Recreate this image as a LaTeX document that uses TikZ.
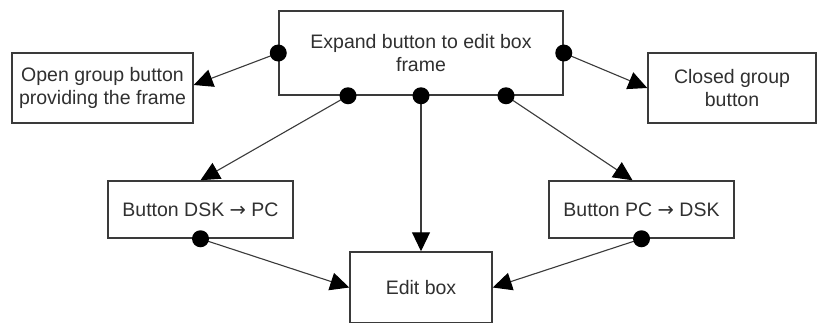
\documentclass[tikz,border=0pt]{standalone}
\usepackage{fontspec}
\setmainfont{Liberation Sans}
\newfontfamily\arrowfont{DejaVu Sans}
\usetikzlibrary{arrows.meta}
\definecolor{ink}{HTML}{303030}
\definecolor{frame}{HTML}{3A3A3A}
\newcommand{\toarrow}{{\arrowfont →}}
\tikzset{
  box/.style={draw=frame, line width=1.5pt, fill=white, inner sep=0pt,
    align=center, text=ink, font=\fontsize{19.5}{23}\selectfont},
  link/.style={draw=frame, line width=1.1pt,
    -{Triangle[length=19pt,width=18pt,color=black]}},
  dot/.style={fill=black, draw=none},
}
\begin{document}
\begin{tikzpicture}[x=1pt, y=-1pt]
\useasboundingbox (0,0) rectangle (818,322);
\clip (0,0) rectangle (818,322);
\fill[white] (0,0) rectangle (818,322);

% boxes
\node[box, minimum width=284pt, minimum height=84pt] (top) at (421,53)
  {Expand button to edit box\\frame};
\node[box, minimum width=181pt, minimum height=70pt] (left) at (102.5,88)
  {Open group button\\providing the frame};
\node[box, minimum width=168pt, minimum height=70pt] (right) at (732,88)
  {Closed group\\button};
\node[box, minimum width=185pt, minimum height=57pt] (dsk) at (200.5,209.5)
  {Button DSK \toarrow{} PC};
\node[box, minimum width=185pt, minimum height=57pt] (pc) at (641.5,209.5)
  {Button PC \toarrow{} DSK};
\node[box, minimum width=142pt, minimum height=71pt] (edit) at (421,287.5)
  {Edit box};

% connector origins on the frame box
\coordinate (tl) at (top.west);
\coordinate (tr) at (top.east);
\coordinate (b1) at ([xshift=-73pt]top.south);
\coordinate (b2) at (top.south);
\coordinate (b3) at ([xshift=85pt]top.south);
\coordinate (dd) at (dsk.south);
\coordinate (pd) at (pc.south);

% connectors
\draw[link] (tl) -- ([yshift=3pt]left.east);
\draw[link] (tr) -- (right.west);
\draw[link] (b1) -- (dsk.north);
\draw[link] (b2) -- (edit.north);
\draw[link] (b3) -- ([xshift=-9pt]pc.north);
\draw[link] (dd) -- (edit.west);
\draw[link] (pd) -- (edit.east);

% dots
\foreach \p in {tl,tr,b1,b2,b3,dd,pd}
  \fill[dot] (\p) circle (8.5pt);
\end{tikzpicture}
\end{document}
